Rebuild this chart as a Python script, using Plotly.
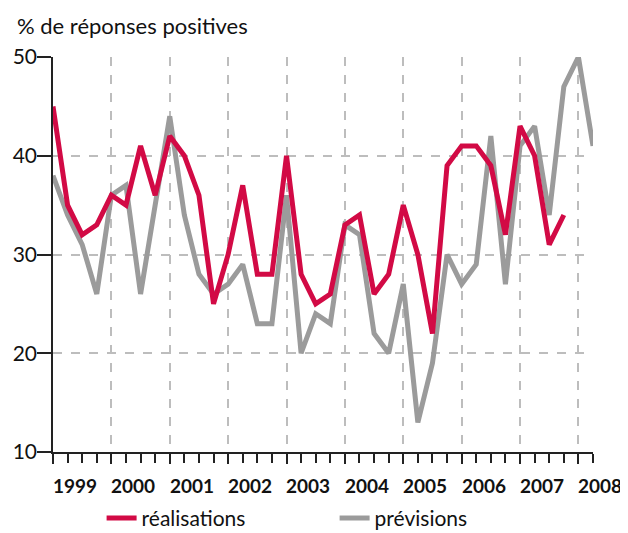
import plotly.graph_objects as go

# quarterly data, first point = Q1 1999
realisations = [45, 35, 32, 33, 36, 35, 41, 36, 42, 40, 36, 25,
                30, 37, 28, 28, 40, 28, 25, 26, 33, 34, 26, 28,
                35, 30, 22, 39, 41, 41, 39, 32, 43, 40, 31, 34]
previsions = [38, 34, 31, 26, 36, 37, 26, 35, 44, 34, 28, 26,
              27, 29, 23, 23, 36, 20, 24, 23, 33, 32, 22, 20,
              27, 13, 19, 30, 27, 29, 42, 27, 41, 43, 34, 47,
              50, 41]
years = ["1999", "2000", "2001", "2002", "2003", "2004", "2005", "2006", "2007", "2008"]
y_ticks = [10, 20, 30, 40, 50]

RED = "#d20a45"
GREY = "#9b9b9b"
FONT = "Lato"
X_MAX = len(previsions) - 1

# page body has an 8px margin, so the figure is 8px smaller than the window
W, H = 620, 525

fig = go.Figure()
fig.add_trace(go.Scatter(
    x=list(range(len(previsions))), y=previsions,
    mode="lines", name="prévisions",
    line=dict(color=GREY, width=5),
))
fig.add_trace(go.Scatter(
    x=list(range(len(realisations))), y=realisations,
    mode="lines", name="réalisations",
    line=dict(color=RED, width=5),
))

# year labels centred in each year
for i, yr in enumerate(years):
    fig.add_annotation(
        x=(i * 4 + 1.5) / X_MAX, y=-0.084, xref="paper", yref="paper",
        text=yr, showarrow=False, xanchor="center", yanchor="middle",
        font=dict(family=FONT, size=19, color="#111", weight="bold"),
    )

fig.update_layout(
    width=W, height=H,
    margin=dict(l=45, r=35, t=49, b=81, autoexpand=False),
    paper_bgcolor="white", plot_bgcolor="white",
    font=dict(family=FONT, color="#111"),
    title=dict(
        text="% de réponses positives", x=9 / W, xanchor="left",
        y=1 - 18 / H, yanchor="middle", font=dict(size=22, family=FONT, color="#111"),
    ),
    legend=dict(
        orientation="h", x=0.09, xanchor="left", y=-0.168, yanchor="middle",
        traceorder="reversed", entrywidth=188, entrywidthmode="pixels",
        font=dict(size=21, family=FONT, color="#111"),
    ),
    showlegend=True,
)

fig.update_xaxes(
    range=[0, X_MAX], showline=True, linecolor="#222", linewidth=1.5,
    tick0=0, dtick=4, ticks="outside", ticklen=10, tickcolor="#222", tickwidth=1.5,
    showticklabels=False, automargin=False,
    showgrid=True, gridcolor="#bdbdbd", gridwidth=1.5, griddash="dash",
    minor=dict(dtick=1, tick0=0, ticks="outside", ticklen=9, tickcolor="#222",
               tickwidth=1.5, showgrid=False),
    zeroline=False,
)
fig.update_yaxes(
    range=[10, 50], tickvals=y_ticks, showline=True, linecolor="#222", linewidth=1.5,
    ticks="outside", ticklen=14, tickcolor="#222", tickwidth=1.5,
    tickfont=dict(size=21, family=FONT, color="#111"), automargin=False,
    ticklabelstandoff=-4,
    showgrid=True, gridcolor="#bdbdbd", gridwidth=1.5, griddash="dash",
    zeroline=False,
)

fig.write_html("out.html")
